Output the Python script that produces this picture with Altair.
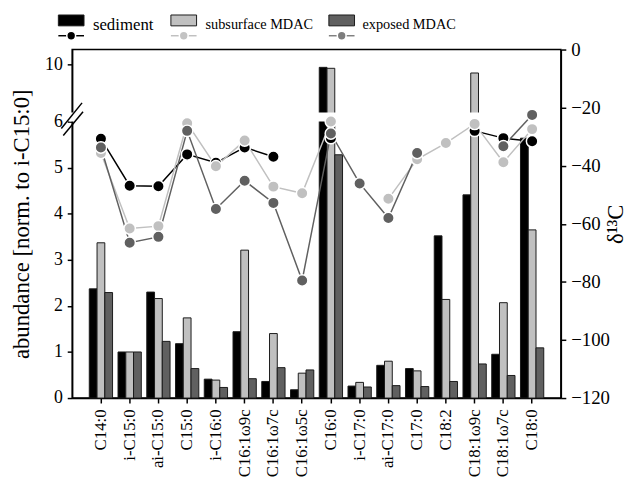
import altair as alt
import pandas as pd

# ---------------- data ----------------
acids = ["C14:0", "i-C15:0", "ai-C15:0", "C15:0", "i-C16:0", "C16:1ω9c", "C16:1ω7c",
         "C16:1ω5c", "C16:0", "i-C17:0", "ai-C17:0", "C17:0", "C18:2", "C18:1ω9c",
         "C18:1ω7c", "C18:0"]
series = ["sediment", "subsurface MDAC", "exposed MDAC"]

abund_sediment = [2.37, 1.0, 2.30, 1.18, 0.41, 1.44, 0.36, 0.18, 9.75, 0.26, 0.71, 0.64, 3.52, 4.41, 0.95, 5.64]
abund_subsurface = [3.37, 1.0, 2.16, 1.74, 0.39, 3.21, 1.40, 0.54, 9.67, 0.34, 0.80, 0.59, 2.14, 9.28, 2.07, 3.65]
abund_exposed = [2.29, 1.0, 1.23, 0.64, 0.23, 0.42, 0.66, 0.61, 5.28, 0.24, 0.27, 0.25, 0.36, 0.74, 0.49, 1.09]

d13c_sediment = [-30.7, -46.9, -47.1, -36.1, -39.0, -33.7, -36.9, None, -30.5, None, None, None, None, -28.0, -30.5, -31.6]
d13c_subsurface = [-35.6, -61.6, -60.8, -25.4, -40.2, -31.3, -47.2, -49.5, -24.8, None, -51.4, -37.8, -32.2, -25.6, -38.8, -27.4]
d13c_exposed = [-33.7, -66.5, -64.5, -28.0, -54.9, -45.2, -52.8, -79.5, -28.9, -46.1, -58.0, -35.6, None, None, -33.3, -22.5]

y_ticks_low = [0, 1, 2, 3, 4, 5, 6]
y_tick_high = 10
d13c_ticks = [-120, -100, -80, -60, -40, -20, 0]

# ---------------- styling / layout ----------------
bar_colors = ["#000000", "#c0c0c0", "#606060"]
line_colors = ["#000000", "#c0c0c0", "#808080"]
point_colors = ["#000000", "#c3c3c3", "#7d7d7d"]
FONT = "Liberation Serif"
W, H = 495, 353

# broken axis: 0-6 linear, then gap, then compressed upper segment
BREAK, GAP, K = 6.0, 0.199, 0.261
YTOP = 7.564


def disp(v):
    return v if v <= BREAK else BREAK + GAP + (v - BREAK) * K


bar_rows = []
for s, vals in zip(series, [abund_sediment, abund_subsurface, abund_exposed]):
    for a, v in zip(acids, vals):
        bar_rows.append({"acid": a, "series": s, "value": v, "disp": disp(v)})
bars_df = pd.DataFrame(bar_rows)

pt_rows = []
for s, vals in zip(series, [d13c_sediment, d13c_subsurface, d13c_exposed]):
    seg = 0
    for a, v in zip(acids, vals):
        if v is None:
            seg += 1
            continue
        pt_rows.append({"acid": a, "series": s, "d13c": v, "seg": f"{s}|{seg}"})
pts_df = pd.DataFrame(pt_rows)

xscale = alt.Scale(paddingInner=0.19, paddingOuter=0.595)
xaxis = alt.Axis(title=None, labelAngle=-90, labelFontSize=17, labelPadding=6,
                 labelFont=FONT, tickSize=5, tickWidth=1.5, domainWidth=1.5)

hi_disp = disp(y_tick_high)
left_axis = alt.Axis(title="abundance [norm. to i-C15:0]", values=y_ticks_low + [hi_disp],
                     labelExpr=f"datum.value > {BREAK + 0.5} ? '{y_tick_high}' : format(datum.value, 'd')",
                     labelFont=FONT, titleFont=FONT, titleFontWeight="normal",
                     labelFontSize=18, titleFontSize=23, titlePadding=11, tickSize=5,
                     tickWidth=1.5, domainWidth=1.5, labelPadding=5)
right_axis = alt.Axis(title="δ¹³C", orient="right", values=d13c_ticks, labelFontSize=19,
                      labelFont=FONT, titleFont=FONT, titleFontWeight="normal",
                      titleFontSize=23, titleAngle=270, titleBaseline="top", titlePadding=-5,
                      tickSize=5, tickWidth=1.5, domainWidth=1.5, labelPadding=5)

bars = alt.Chart(bars_df).mark_bar(stroke="#1a1a1a", strokeWidth=1).encode(
    x=alt.X("acid:N", sort=acids, scale=xscale, axis=xaxis),
    xOffset=alt.XOffset("series:N", sort=series, scale=alt.Scale(paddingInner=0, paddingOuter=0)),
    y=alt.Y("disp:Q", scale=alt.Scale(domain=[0, YTOP], nice=False, zero=True), axis=left_axis),
    color=alt.Color("series:N", sort=series, scale=alt.Scale(domain=series, range=bar_colors), legend=None),
)

gap = alt.Chart(pd.DataFrame({"lo": [BREAK], "hi": [BREAK + GAP]})).mark_rect(color="white").encode(
    x=alt.value(-3), x2=alt.value(470),
    y=alt.Y("lo:Q", scale=alt.Scale(domain=[0, YTOP], nice=False), axis=None),
    y2="hi:Q",
)

slashes = alt.Chart(pd.DataFrame({"k": [0]})).mark_rule(color="black", strokeWidth=1.5).encode(
    x=alt.value(-11), x2=alt.value(10), y=alt.value(80), y2=alt.value(54)
)
slash2 = alt.Chart(pd.DataFrame({"k": [0]})).mark_rule(color="black", strokeWidth=1.5).encode(
    x=alt.value(-9), x2=alt.value(11), y=alt.value(87), y2=alt.value(63)
)

d13_scale = alt.Scale(domain=[-120, 0], nice=False, zero=False)
lines = alt.Chart(pts_df).mark_line(strokeWidth=1.5).encode(
    x=alt.X("acid:N", sort=acids, scale=xscale, axis=xaxis),
    y=alt.Y("d13c:Q", scale=d13_scale, axis=right_axis),
    detail="seg:N",
    color=alt.Color("series:N", scale=alt.Scale(domain=series, range=line_colors), legend=None),
)
points = alt.Chart(pts_df).mark_circle(size=135, opacity=1, stroke="white", strokeWidth=1.5).encode(
    x=alt.X("acid:N", sort=acids, scale=xscale, axis=xaxis),
    y=alt.Y("d13c:Q", scale=d13_scale, axis=right_axis),
    color=alt.Color("series:N", scale=alt.Scale(domain=series, range=point_colors), legend=None),
)
isotopes = alt.layer(lines, points)

# ---------------- manual legend ----------------
leg_x = [-14, 100, 260]
leg_text_x = [21, 135, 294]
leg_font = [17, 14.5, 14.5]
legend_layers = []
for i, s in enumerate(series):
    d = pd.DataFrame({"series": [s]})
    legend_layers.append(alt.Chart(d).mark_rect(fill=bar_colors[i], stroke="#1a1a1a", strokeWidth=1).encode(
        x=alt.value(leg_x[i]), x2=alt.value(leg_x[i] + 26), y=alt.value(-35), y2=alt.value(-24)))
    legend_layers.append(alt.Chart(d).mark_rule(color=line_colors[i], strokeWidth=1.5).encode(
        x=alt.value(leg_x[i]), x2=alt.value(leg_x[i] + 26), y=alt.value(-14)))
    legend_layers.append(alt.Chart(d).mark_circle(size=80, opacity=1, fill=point_colors[i],
                                                   stroke="white", strokeWidth=1.5).encode(
        x=alt.value(leg_x[i] + 13), y=alt.value(-14)))
    legend_layers.append(alt.Chart(d).mark_text(align="left", baseline="middle", font=FONT,
                                                 fontWeight="normal",
                                                 fontSize=leg_font[i], color="black").encode(
        x=alt.value(leg_text_x[i]), y=alt.value(-25), text="series:N"))

chart = alt.layer(bars, gap, isotopes, slashes, slash2, *legend_layers).resolve_scale(
    y="independent"
).properties(
    width=W, height=H,
    autosize=alt.AutoSizeParams(type="none"),
    padding={"left": 65, "top": 39, "right": 68, "bottom": 86},
).configure_view(
    stroke="black", strokeWidth=1.5
).configure_axis(
    grid=False, domainColor="black", tickColor="black", labelColor="black",
    titleColor="black", labelFont=FONT, titleFont=FONT, titleFontWeight="normal",
)

chart.save("out.html", embed_options={"renderer": "svg", "actions": False})
